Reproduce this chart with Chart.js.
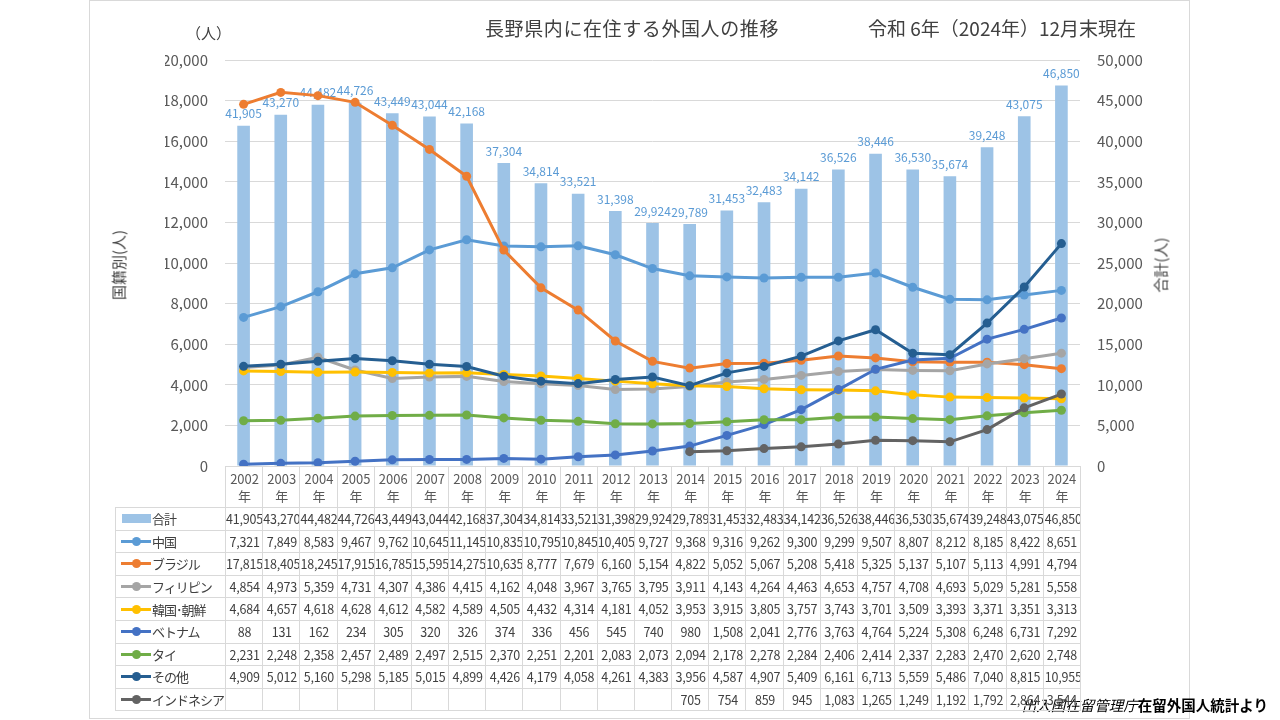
<!DOCTYPE html>
<html lang="ja">
<head>
<meta charset="utf-8">
<script src="https://cdn.jsdelivr.net/npm/chart.js@4.4.1/dist/chart.umd.min.js"></script>
<style>
  html, body { margin: 0; padding: 0; background: #fff; }
  body { width: 1280px; height: 720px; position: relative; overflow: hidden;
         font-family: "Noto Sans CJK JP", "Noto Sans", sans-serif; }
  #frame { position: absolute; left: 89px; top: 0; width: 1099px; height: 717px; border: 1px solid #d9d9d9; }
  #wrap { position: absolute; left: 0; top: 0; width: 1280px; height: 720px; }
  .abs { position: absolute; white-space: nowrap; }
  .cell { position: absolute; box-sizing: border-box; border-left: 1px solid #d9d9d9; border-top: 1px solid #d9d9d9;
          overflow: hidden; white-space: nowrap; text-align: center; color: #404040; font-size: 12.5px; letter-spacing: -0.2px; }
  .lg { text-align: left; font-size: 13px; color: #404040; letter-spacing: -1px; }
  .mk { position: absolute; top: 50%; }
</style>
</head>
<body>
<div id="frame"></div>
<div id="wrap"><canvas id="c" width="1280" height="720"></canvas></div>
<div class="abs" style="left:485px;top:14px;font-size:19px;color:#404040;letter-spacing:0.6px;">長野県内に在住する外国人の推移</div>
<div class="abs" style="left:868px;top:14px;font-size:19px;color:#404040;">令和 6年（2024年）12月末現在</div>
<div class="abs" style="left:186px;top:22px;font-size:15px;color:#404040;">（人）</div>
<div class="abs" style="left:118px;top:265px;font-size:15px;color:#404040;transform:translate(-50%,-50%) rotate(-90deg);">国籍別(人)</div>
<div class="abs" style="left:1160px;top:265px;font-size:15px;color:#404040;transform:translate(-50%,-50%) rotate(-90deg);">合計(人)</div>
<div class="abs" style="right:12px;top:694px;font-size:14.5px;color:#000;"><span style="font-style:italic;">出入国在留管理庁</span><b>在留外国人統計より</b></div>
<div id="table"></div>
<script>
const years = ["2002","2003","2004","2005","2006","2007","2008","2009","2010","2011","2012","2013","2014","2015","2016","2017","2018","2019","2020","2021","2022","2023","2024"];
const totals     = [41905,43270,44482,44726,43449,43044,42168,37304,34814,33521,31398,29924,29789,31453,32483,34142,36526,38446,36530,35674,39248,43075,46850];
const china      = [7321,7849,8583,9467,9762,10645,11145,10835,10795,10845,10405,9727,9368,9316,9262,9300,9299,9507,8807,8212,8185,8422,8651];
const brazil     = [17815,18405,18245,17915,16785,15595,14275,10635,8777,7679,6160,5154,4822,5052,5067,5208,5418,5325,5137,5107,5113,4991,4794];
const philippines= [4854,4973,5359,4731,4307,4386,4415,4162,4048,3967,3765,3795,3911,4143,4264,4463,4653,4757,4708,4693,5029,5281,5558];
const korea      = [4684,4657,4618,4628,4612,4582,4589,4505,4432,4314,4181,4052,3953,3915,3805,3757,3743,3701,3509,3393,3371,3351,3313];
const vietnam    = [88,131,162,234,305,320,326,374,336,456,545,740,980,1508,2041,2776,3763,4764,5224,5308,6248,6731,7292];
const thai       = [2231,2248,2358,2457,2489,2497,2515,2370,2251,2201,2083,2073,2094,2178,2278,2284,2406,2414,2337,2283,2470,2620,2748];
const others     = [4909,5012,5160,5298,5185,5015,4899,4426,4179,4058,4261,4383,3956,4587,4907,5409,6161,6713,5559,5486,7040,8815,10955];
const indonesia  = [null,null,null,null,null,null,null,null,null,null,null,null,705,754,859,945,1083,1265,1249,1192,1792,2864,3544];
const leftTicks  = { min: 0, max: 20000, step: 2000 };
const rightTicks = { min: 0, max: 50000, step: 5000 };

const lineSeries = [
  { name: "中国", data: china, color: "#5b9bd5" },
  { name: "ブラジル", data: brazil, color: "#ed7d31" },
  { name: "フィリピン", data: philippines, color: "#a5a5a5" },
  { name: "韓国･朝鮮", data: korea, color: "#ffc000" },
  { name: "ベトナム", data: vietnam, color: "#4472c4" },
  { name: "タイ", data: thai, color: "#70ad47" },
  { name: "その他", data: others, color: "#255e91" },
  { name: "インドネシア", data: indonesia, color: "#636363" }
];
const barColor = "#9dc3e6";
const fmt = v => (v === null || v === undefined) ? "" : v.toLocaleString("en-US");

const datasets = lineSeries.map((s, i) => ({
  type: "line", label: s.name, data: s.data, yAxisID: "y",
  borderColor: s.color, backgroundColor: s.color, borderWidth: 3,
  pointRadius: 4.5, pointBorderWidth: 0, pointBackgroundColor: s.color,
  tension: 0, spanGaps: false, order: lineSeries.length - i
}));
datasets.push({
  type: "bar", label: "合計", data: totals, yAxisID: "y1",
  backgroundColor: barColor, borderWidth: 0, barPercentage: 0.34, categoryPercentage: 1.0,
  order: 100
});
const barIndex = datasets.length - 1;

const labelPlugin = {
  id: "barLabels",
  afterDatasetDraw(chart, args) {
    if (args.index !== barIndex) return;
    const ctx = chart.ctx;
    const meta = chart.getDatasetMeta(barIndex);
    ctx.save();
    ctx.font = '12px "Noto Sans CJK JP"';
    ctx.fillStyle = "#5b9bd5";
    ctx.textAlign = "center";
    ctx.textBaseline = "bottom";
    meta.data.forEach((el, i) => {
      ctx.fillText(fmt(totals[i]), el.x, el.y - 6);
    });
    ctx.restore();
  }
};

const chart = new Chart(document.getElementById("c"), {
  type: "bar",
  data: { labels: years, datasets },
  options: {
    responsive: false, animation: false,
    layout: { padding: { left: 165, right: 120, top: 60, bottom: 254 } },
    plugins: { legend: { display: false }, tooltip: { enabled: false }, title: { display: false } },
    scales: {
      x: { display: false, offset: true },
      y: {
        position: "left", min: leftTicks.min, max: leftTicks.max,
        afterFit: s => { s.width = 60; },
        border: { display: false },
        grid: { color: "#d9d9d9", lineWidth: 1, drawTicks: false },
        ticks: { stepSize: leftTicks.step, padding: 17, color: "#595959",
                 font: { family: "Noto Sans CJK JP", size: 15 }, callback: v => fmt(v) }
      },
      y1: {
        position: "right", min: rightTicks.min, max: rightTicks.max,
        afterFit: s => { s.width = 80; },
        border: { display: false },
        grid: { drawOnChartArea: false, drawTicks: false },
        ticks: { stepSize: rightTicks.step, padding: 17, color: "#595959",
                 font: { family: "Noto Sans CJK JP", size: 15 }, callback: v => fmt(v) }
      }
    }
  },
  plugins: [labelPlugin]
});

// Build the data table aligned to the chart's categories
(function buildTable() {
  const area = chart.chartArea;
  const n = years.length;
  const colW = (area.right - area.left) / n;
  const tableLeft = 115;
  const headTop = area.bottom;
  const headH = 41;
  const rowH = 22.6;
  const t = document.getElementById("table");
  const add = (x, y, w, h, html, cls, extra) => {
    const d = document.createElement("div");
    d.className = "cell" + (cls ? " " + cls : "");
    d.style.left = x + "px"; d.style.top = y + "px";
    d.style.width = w + "px"; d.style.height = h + "px";
    if (extra) Object.assign(d.style, extra);
    d.innerHTML = html;
    t.appendChild(d);
    return d;
  };
  years.forEach((yr, i) => {
    const x = area.left + i * colW;
    add(x, headTop, colW + 1, headH,
      '<div style="line-height:17px;padding-top:3px;color:#595959;font-size:13px;letter-spacing:0;">' + yr + '<br>年</div>',
      "", i === n - 1 ? { borderRight: "1px solid #d9d9d9" } : null);
  });
  const rows = [{ name: "合計", data: totals, color: barColor, bar: true }].concat(lineSeries);
  rows.forEach((r, ri) => {
    const y = headTop + headH + ri * rowH;
    const last = ri === rows.length - 1;
    const bottom = last ? { borderBottom: "1px solid #d9d9d9" } : {};
    const marker = r.bar
      ? '<span class="mk" style="left:6px;width:29px;height:9px;margin-top:-5px;background:' + r.color + ';"></span>'
      : '<span class="mk" style="left:5px;width:30px;height:3px;margin-top:-2px;background:' + r.color + ';"></span>' +
        '<span class="mk" style="left:16px;width:9px;height:9px;margin-top:-5px;border-radius:50%;background:' + r.color + ';"></span>';
    add(tableLeft, y, area.left - tableLeft + 1, rowH + 1,
      marker + '<span style="position:absolute;left:36px;top:50%;transform:translateY(-52%);">' + r.name + '</span>',
      "lg", bottom);
    r.data.forEach((v, i) => {
      const x = area.left + i * colW;
      const ex = Object.assign({ lineHeight: rowH + "px" }, bottom);
      if (i === n - 1) ex.borderRight = "1px solid #d9d9d9";
      const d = add(x, y, colW + 1, rowH + 1, fmt(v), "", ex);
      if (d.scrollWidth > d.clientWidth) { d.style.textAlign = "left"; d.style.paddingLeft = "1px"; }
    });
  });
})();
</script>
</body>
</html>
